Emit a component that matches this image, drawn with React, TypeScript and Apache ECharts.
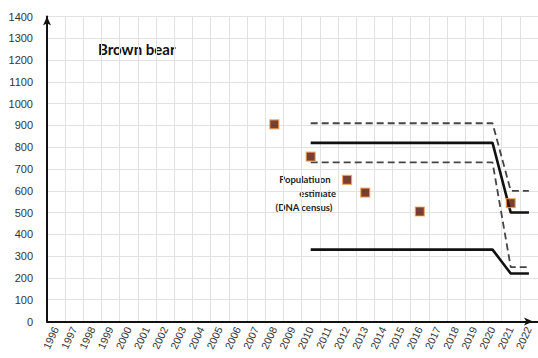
import React, { useEffect, useRef } from "react";
import * as echarts from "echarts";

const years = [
  "1996", "1997", "1998", "1999", "2000", "2001", "2002", "2003", "2004",
  "2005", "2006", "2007", "2008", "2009", "2010", "2011", "2012", "2013",
  "2014", "2015", "2016", "2017", "2018", "2019", "2020", "2021", "2022",
];

// Population estimate (DNA census)
const censusYears = ["2008", "2010", "2012", "2013", "2016", "2021"];
const censusValues = [905, 757, 650, 592, 505, 543];

// Reference lines: breakpoints
const lineYears = ["2010", "2020", "2021", "2022"];
const upperSolid = [820, 820, 500, 500];
const lowerSolid = [330, 330, 220, 220];
const upperDashed = [910, 910, 600, 600];
const lowerDashed = [730, 730, 250, 250];

const yTicks = { min: 0, max: 1400, interval: 100 };

const pair = (xs: string[], vs: number[]) => xs.map((x, i) => [x, vs[i]]);

export default function App() {
  const ref = useRef<HTMLDivElement>(null);
  useEffect(() => {
    if (!ref.current) return;
    const chart = echarts.init(ref.current, null, { renderer: "svg" });
    const solidStyle = { color: "#111", width: 2.6, type: "solid" as const };
    const dashStyle = { color: "#444", width: 1.8, type: [7, 4] as any };
    chart.setOption({
      animation: false,
      backgroundColor: "#fff",
      grid: { left: 47, top: 16.5, width: 495, bottom: 36.5 },
      xAxis: {
        type: "category",
        data: years,
        boundaryGap: true,
        axisLine: {
          show: true,
          lineStyle: { color: "#111", width: 2 },
          symbol: ["none", "arrow"],
          symbolSize: [6, 9],
          symbolOffset: [0, -5],
        },
        axisTick: { show: false },
        axisLabel: {
          interval: 0,
          rotate: 65,
          margin: 6,
          fontSize: 10.5,
          color: "#333",
          fontFamily: "Liberation Sans",
        },
        splitLine: { show: true, interval: 0, lineStyle: { color: "#e2e2e2", width: 1 } },
      },
      yAxis: {
        type: "value",
        min: yTicks.min,
        max: yTicks.max,
        interval: yTicks.interval,
        axisLine: {
          show: true,
          lineStyle: { color: "#111", width: 2 },
          symbol: ["none", "arrow"],
          symbolSize: [6, 9],
        },
        axisTick: { show: false },
        axisLabel: {
          margin: 14,
          fontSize: 11,
          color: "#333",
          fontFamily: "Liberation Sans",
          formatter: (v: number) => String(v),
        },
        splitLine: { show: true, lineStyle: { color: "#e2e2e2", width: 1 } },
      },
      series: [
        { type: "line", data: pair(lineYears, upperDashed), lineStyle: dashStyle, symbol: "none", z: 2 },
        { type: "line", data: pair(lineYears, lowerDashed), lineStyle: dashStyle, symbol: "none", z: 2 },
        { type: "line", data: pair(lineYears, upperSolid), lineStyle: solidStyle, symbol: "none", z: 3 },
        { type: "line", data: pair(lineYears, lowerSolid), lineStyle: solidStyle, symbol: "none", z: 3 },
        {
          type: "scatter",
          data: pair(censusYears, censusValues),
          symbol: "rect",
          symbolSize: 9,
          itemStyle: { color: "#5a0e00", borderColor: "#f5a455", borderWidth: 1.2 },
          z: 5,
        },
      ],
      graphic: [
        {
          type: "text",
          x: 98,
          y: 49,
          style: {
            text: "Brown bear",
            fill: "#111",
            fontSize: 15,
            fontWeight: "bold",
            fontFamily: "Lato",
            align: "left",
            verticalAlign: "middle",
          },
        },
        {
          type: "text",
          x: 305,
          y: 179.5,
          style: {
            text: "Populatiuon",
            fill: "#222",
            fontSize: 9.5,
            fontWeight: "bold",
            fontFamily: "Lato",
            align: "center",
            verticalAlign: "middle",
          },
        },
        {
          type: "text",
          x: 336,
          y: 193.5,
          style: {
            text: "estimate",
            fill: "#222",
            fontSize: 9.5,
            fontWeight: "bold",
            fontFamily: "Lato",
            align: "right",
            verticalAlign: "middle",
          },
        },
        {
          type: "text",
          x: 304,
          y: 207,
          style: {
            text: "(DNA census)",
            fill: "#222",
            fontSize: 9.5,
            fontWeight: "bold",
            fontFamily: "Lato",
            align: "center",
            verticalAlign: "middle",
          },
        },
      ],
    });
    return () => chart.dispose();
  }, []);
  return (
    <div
      ref={ref}
      style={{ position: "fixed", left: 0, top: 0, width: 538, height: 358 }}
    />
  );
}
